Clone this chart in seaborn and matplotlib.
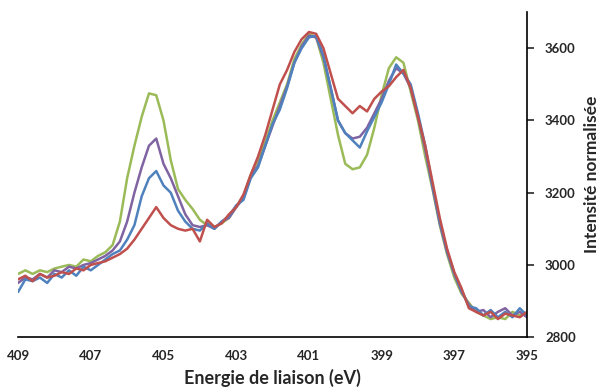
import numpy as np
import pandas as pd
import matplotlib
matplotlib.use("Agg")
import matplotlib.pyplot as plt
import seaborn as sns

# binding energy grid (eV), 0.2 eV step
energy = [409.0, 408.8, 408.6, 408.4, 408.2, 408.0, 407.8, 407.6, 407.4, 407.2,
          407.0, 406.8, 406.6, 406.4, 406.2, 406.0, 405.8, 405.6, 405.4, 405.2,
          405.0, 404.8, 404.6, 404.4, 404.2, 404.0, 403.8, 403.6, 403.4, 403.2,
          403.0, 402.8, 402.6, 402.4, 402.2, 402.0, 401.8, 401.6, 401.4, 401.2,
          401.0, 400.8, 400.6, 400.4, 400.2, 400.0, 399.8, 399.6, 399.4, 399.2,
          399.0, 398.8, 398.6, 398.4, 398.2, 398.0, 397.8, 397.6, 397.4, 397.2,
          397.0, 396.8, 396.6, 396.4, 396.2, 396.0, 395.8, 395.6, 395.4, 395.2,
          395.0]

green = [2975, 2985, 2975, 2985, 2980, 2990, 2995, 3000, 2995, 3015,
         3010, 3025, 3035, 3055, 3120, 3240, 3330, 3410, 3475, 3470,
         3400, 3290, 3210, 3180, 3155, 3125, 3110, 3105, 3115, 3130,
         3160, 3190, 3250, 3290, 3340, 3400, 3450, 3500, 3570, 3610,
         3640, 3630, 3560, 3460, 3360, 3280, 3265, 3270, 3305, 3380,
         3470, 3545, 3575, 3560, 3480, 3400, 3300, 3210, 3110, 3030,
         2965, 2920, 2895, 2870, 2860, 2850, 2855, 2850, 2870, 2860,
         2865]

purple = [2950, 2965, 2960, 2975, 2965, 2985, 2980, 2995, 2990, 3000,
          3005, 3015, 3025, 3040, 3065, 3120, 3200, 3270, 3330, 3350,
          3280, 3240, 3190, 3140, 3110, 3105, 3110, 3100, 3120, 3130,
          3160, 3185, 3245, 3275, 3330, 3385, 3440, 3495, 3560, 3605,
          3635, 3630, 3575, 3490, 3400, 3365, 3350, 3355, 3380, 3420,
          3460, 3510, 3545, 3530, 3490, 3410, 3320, 3215, 3115, 3035,
          2975, 2925, 2890, 2870, 2875, 2855, 2870, 2880, 2860, 2870,
          2855]

blue = [2925, 2960, 2955, 2965, 2950, 2975, 2965, 2985, 2970, 2995,
        2985, 3000, 3015, 3030, 3040, 3070, 3110, 3190, 3240, 3260,
        3220, 3200, 3150, 3120, 3100, 3095, 3115, 3100, 3120, 3135,
        3165, 3180, 3240, 3270, 3330, 3390, 3430, 3490, 3560, 3600,
        3630, 3635, 3580, 3490, 3400, 3365, 3345, 3325, 3370, 3410,
        3450, 3500, 3555, 3530, 3500, 3420, 3330, 3220, 3120, 3040,
        2975, 2930, 2885, 2880, 2860, 2875, 2855, 2870, 2855, 2880,
        2860]

red = [2960, 2970, 2955, 2975, 2965, 2970, 2980, 2975, 2990, 2985,
       3000, 3005, 3010, 3020, 3030, 3045, 3070, 3100, 3130, 3160,
       3130, 3110, 3100, 3095, 3100, 3065, 3125, 3105, 3115, 3140,
       3160, 3195, 3250, 3300, 3360, 3430, 3500, 3540, 3590, 3625,
       3645, 3640, 3600, 3530, 3460, 3440, 3420, 3440, 3425, 3460,
       3480, 3495, 3520, 3540, 3490, 3410, 3330, 3230, 3130, 3045,
       2980, 2935, 2880, 2870, 2860, 2870, 2850, 2865, 2860, 2855,
       2870]

series = {"green": green, "purple": purple, "blue": blue, "red": red}
colors = {"green": "#9BBB59", "purple": "#8064A2", "blue": "#4F81BD", "red": "#C0504D"}

sns.set_style("white")
plt.rcParams['font.family'] = ['Lato', 'DejaVu Sans']

fig = plt.figure(figsize=(6.03, 3.92), dpi=100)
ax = fig.add_axes([0.030, 0.140, 0.844, 0.829])

for name, vals in series.items():
    df = pd.DataFrame({"eV": energy, "I": vals})
    sns.lineplot(data=df, x="eV", y="I", color=colors[name], lw=1.8, ax=ax)

ax.set_xlim(409, 395)
ax.set_ylim(2800, 3700)
ax.set_xticks(np.arange(409, 394, -2))
ax.set_yticks(np.arange(2800, 3700, 200))

ax.yaxis.tick_right()
ax.yaxis.set_label_position("right")
for side in ("left", "top"):
    ax.spines[side].set_visible(False)
for side in ("bottom", "right"):
    ax.spines[side].set_color("black")
    ax.spines[side].set_linewidth(1.2)
ax.tick_params(axis="x", direction="out", length=5, width=1.2, labelsize=9.5, pad=4)
ax.tick_params(axis="y", direction="out", length=5, width=1.2, labelsize=9.5, pad=8)
for lbl in ax.get_xticklabels() + ax.get_yticklabels():
    lbl.set_fontweight("bold")

ax.set_xlabel("Energie de liaison (eV)", fontsize=13, fontweight="bold", labelpad=5)
ax.set_ylabel("Intensité normalisée", fontsize=12.5, fontweight="bold", labelpad=6)

fig.savefig("out.png", dpi=100)
